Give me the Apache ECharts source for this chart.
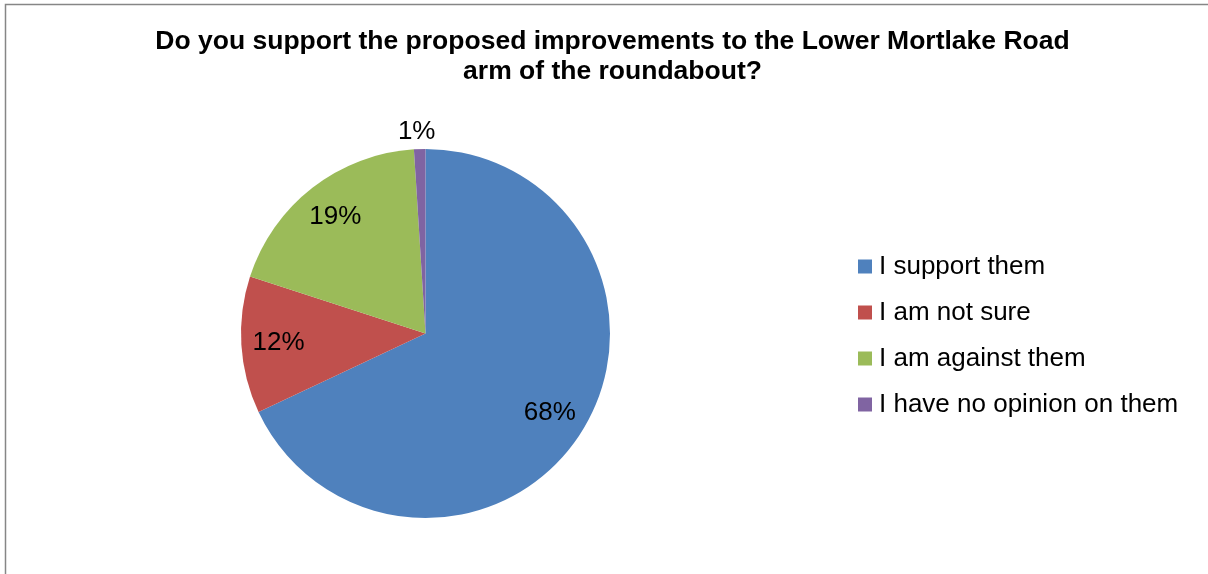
<!DOCTYPE html>
<html>
<head>
<meta charset="utf-8">
<script src="https://cdn.jsdelivr.net/npm/echarts@6/dist/echarts.min.js"></script>
<style>
  html, body { margin: 0; padding: 0; background: #fff; }
  #chart { width: 1208px; height: 574px; }
</style>
</head>
<body>
<div id="chart"></div>
<script>
// Survey answers and their shares (percent)
const categories = ['I support them', 'I am not sure', 'I am against them', 'I have no opinion on them'];
const shares = [68, 12, 19, 1];
const sliceColors = ['#4F81BD', '#C0504D', '#9BBB59', '#8064A2'];
const titleText = 'Do you support the proposed improvements to the Lower Mortlake Road\narm of the roundabout?';

const FONT = '"Liberation Sans", Arial, sans-serif';
const center = [425.5, 333.5];
const R = 184.5;

const pieData = categories.map((name, i) => ({
  name,
  value: shares[i],
  itemStyle: { color: sliceColors[i] }
}));

// Label ring: transparent slices whose mid-radius sits at ~78% of the pie radius
const labelData = categories.map((name, i) => {
  const small = shares[i] < 5;
  return {
    name,
    value: shares[i],
    itemStyle: { color: 'rgba(0,0,0,0)' },
    label: small
      ? { position: 'outside', distanceToLabelLine: 0 }
      : { position: 'inside' },
    labelLine: small ? { show: false, length: 8, length2: 0 } : { show: false }
  };
});

const chart = echarts.init(document.getElementById('chart'), null, { renderer: 'canvas' });
chart.setOption({
  animation: false,
  backgroundColor: '#ffffff',
  graphic: [{
    type: 'rect',
    shape: { x: 5.5, y: 4.5, width: 1400, height: 800 },
    style: { fill: 'none', stroke: '#868686', lineWidth: 1.5 },
    silent: true,
    z: -1
  }],
  title: {
    text: titleText,
    left: 607.5,
    top: 22,
    textAlign: 'center',
    textStyle: {
      fontFamily: FONT,
      fontSize: 26.5,
      fontWeight: 'bold',
      color: '#000',
      lineHeight: 30
    }
  },
  legend: {
    orient: 'vertical',
    left: 853,
    top: 248.5,
    itemWidth: 14,
    itemHeight: 14,
    itemGap: 20,
    icon: 'rect',
    data: categories,
    textStyle: { fontFamily: FONT, fontSize: 26, color: '#000', lineHeight: 26, padding: [0, 0, 0, 2] }
  },
  series: [
    {
      type: 'pie',
      center,
      radius: [0, R],
      startAngle: 90,
      clockwise: true,
      data: pieData,
      label: { show: false },
      labelLine: { show: false },
      emphasis: { disabled: true }
    },
    {
      type: 'pie',
      center,
      radius: [104, R],
      startAngle: 90,
      clockwise: true,
      silent: true,
      legendHoverLink: false,
      data: labelData,
      label: {
        show: true,
        formatter: '{c}%',
        fontFamily: FONT,
        fontSize: 26,
        color: '#000'
      },
      // nudge the small outside label so it sits centred above its sliver
      labelLayout: (params) => (shares[params.dataIndex] < 5 ? { dx: 16, dy: -9 } : {}),
      emphasis: { disabled: true }
    }
  ]
});
</script>
</body>
</html>
